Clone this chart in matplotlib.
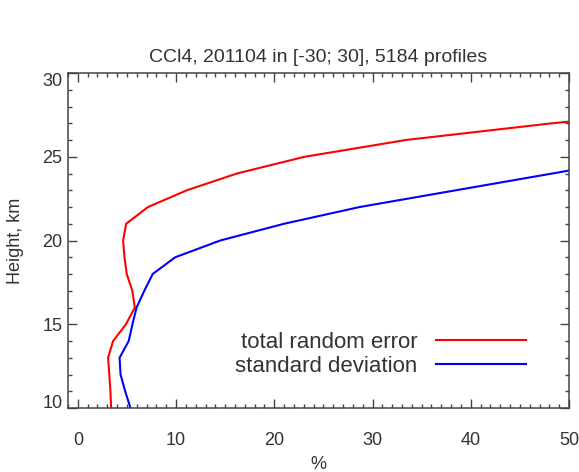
import numpy as np
import matplotlib
matplotlib.use("Agg")
from matplotlib import pyplot as plt
from matplotlib.ticker import MultipleLocator

plt.rcParams['font.family'] = ['Liberation Sans', 'DejaVu Sans']

# CCl4 retrieval error profiles, tropics (-30..30), April 2011
height = [10, 11, 12, 13, 14, 15, 16, 17, 18, 19, 20, 21, 22, 23, 24, 25, 26, 27, 28]
total_random_error = [3.39, 3.32, 3.20, 3.08, 3.59, 4.90, 5.80, 5.55, 4.98, 4.75,
                      4.61, 4.92, 7.15, 11.1, 16.2, 23.1, 33.4, 48.3, 66.0]
std_height = [10, 11, 12, 13, 14, 15, 16, 17, 18, 19, 20, 21, 22, 23, 24, 25]
standard_deviation = [5.36, 4.82, 4.35, 4.25, 5.18, 5.56, 5.98, 6.77, 7.62, 9.92,
                      14.5, 21.0, 28.7, 38.5, 48.3, 58.0]

text_col = '#333333'

fig = plt.figure(figsize=(5.79, 4.72), dpi=100)
ax = fig.add_axes([68 / 579, 64 / 472, 501 / 579, 335 / 472])

ax.plot(total_random_error, height, color='#ff0000', lw=1.5, label='total random error')
ax.plot(standard_deviation, std_height, color='#0000ff', lw=1.5, label='standard deviation')

ax.set_xlim(-1, 50)
ax.set_ylim(10, 30)
ax.xaxis.set_major_locator(MultipleLocator(10))
ax.xaxis.set_minor_locator(MultipleLocator(1))
ax.yaxis.set_major_locator(MultipleLocator(5))
ax.yaxis.set_minor_locator(MultipleLocator(1))

ax.tick_params(which='both', direction='in', top=True, right=True, color='#444444',
               labelcolor=text_col, labelsize=13)
ax.tick_params(which='major', length=6.5, width=1.0)
ax.tick_params(which='minor', length=3.2, width=1.0)
ax.tick_params(axis='x', which='major', pad=17)
ax.tick_params(axis='y', which='major', pad=4)
for s in ax.spines.values():
    s.set_color('#444444')
    s.set_linewidth(1.1)

ax.set_title('CCl4, 201104 in [-30; 30], 5184 profiles', fontsize=14, color=text_col, pad=8)
ax.set_xlabel('%', fontsize=13, color=text_col, labelpad=5)
ax.set_ylabel('Height, km', fontsize=13, color=text_col, labelpad=13)

ax.legend(loc='center', bbox_to_anchor=(0.6237, 0.1597), frameon=False, markerfirst=False,
          fontsize=16, handlelength=4.05, handletextpad=0.85, labelspacing=0.12,
          labelcolor=text_col)

# keep the end labels of the height axis inside the box
fig.canvas.draw()
for tick in ax.yaxis.get_major_ticks():
    if np.isclose(tick.get_loc(), 10):
        tick.label1.set_va('baseline')
    elif np.isclose(tick.get_loc(), 30):
        tick.label1.set_va('top')

fig.savefig('out.png', dpi=100)
